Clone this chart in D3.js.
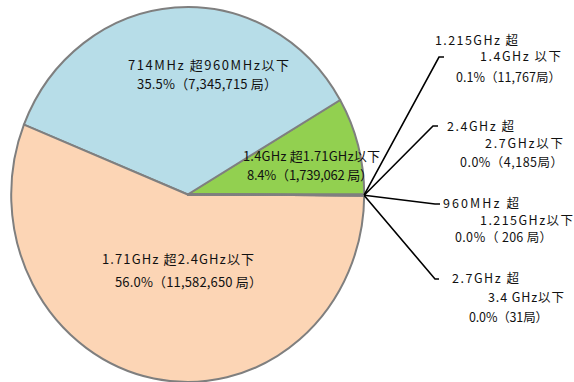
<!DOCTYPE html>
<html><head><meta charset="utf-8">
<script src="https://cdn.jsdelivr.net/npm/d3@7"></script>
<style>
html,body{margin:0;padding:0;background:#fff;}
svg{display:block;}
text{font-family:"Noto Sans CJK JP","Noto Sans",sans-serif;fill:#111;}
</style></head>
<body>
<svg id="chart" width="574" height="382"></svg>
<script>
// ---- data ----
const categories = ["714MHz超960MHz以下","960MHz超1.215GHz以下","1.215GHz超1.4GHz以下","1.4GHz超1.71GHz以下","1.71GHz超2.4GHz以下","2.4GHz超2.7GHz以下","2.7GHz超3.4GHz以下"];
const stations = [7345715, 206, 11767, 1739062, 11582650, 4185, 31];
const percents = ["35.5%","0.0％","0.1%","8.4%","56.0%","0.0%","0.0%"];
const labelLines = [
  ["714MHz 超960MHz以下", "35.5%（7,345,715 局）"],
  ["960MHz  超", "1.215GHz以下", "0.0％（ 206 局）"],
  ["1.215GHz 超", "1.4GHz 以下", "0.1%（11,767局）"],
  ["1.4GHz 超1.71GHz以下", "8.4%（1,739,062 局）"],
  ["1.71GHz  超2.4GHz以下", "56.0%（11,582,650 局）"],
  ["2.4GHz 超", "2.7GHz以下", "0.0%（4,185局）"],
  ["2.7GHz  超", "3.4 GHz以下", "0.0%（31局）"]
];
// drawing order counter-clockwise from 3 o'clock
const pieOrder = [3, 0, 4, 6, 5, 1, 2];

// ---- layout (positions/styles) ----
const colors = {0:"#B7DDE8",3:"#92D050",4:"#FCD5B5",1:"#B7DDE8",2:"#B7DDE8",5:"#FCD5B5",6:"#FCD5B5"};
const geo = {cx:187.7, cy:194.5, rx:176.5, ry:187.5};
// label line positions: [x-start, y-center, width] per line
const labelPos = {
  0: {size:13, lines:[[128,65.5,161],[137,84,140]]},
  3: {size:13, lines:[[243,156.5,137],[247,175.5,126]]},
  4: {size:13, lines:[[102,259.5,152],[115,282,147]]},
  2: {size:12.5, lines:[[435,40,83],[480,56,81],[456,77,105]], leader:[439,57,444]},
  5: {size:12.5, lines:[[447,126,67],[485,143,78],[460,162,103]], leader:[433,126,438]},
  1: {size:12.5, lines:[[443,203,76],[480,220.5,93],[455,237.5,97]], leader:[435,204,440]},
  6: {size:12.5, lines:[[452,278,67],[488,297,76],[469,317,79]], leader:[435,279,439]}
};

const svg = d3.select("#chart");
const sy = geo.ry / geo.rx;
const g = svg.append("g").attr("transform", `translate(${geo.cx},${geo.cy}) scale(1,${sy})`);

const pie = d3.pie().sort(null).value(i => stations[i])
  .startAngle(Math.PI/2).endAngle(Math.PI/2 - 2*Math.PI);
const arcs = pie(pieOrder);
const arc = d3.arc().innerRadius(0).outerRadius(geo.rx);

g.selectAll("path.slice").data(arcs).enter().append("path")
  .attr("class","slice")
  .attr("d", arc)
  .attr("fill", d => colors[d.data])
  .attr("stroke", "#7f7f7f")
  .attr("stroke-width", 2)
  .attr("stroke-linejoin","round")
  .attr("vector-effect","non-scaling-stroke");

// leader lines for tiny slices
const edgeArc = d3.arc().innerRadius(geo.rx).outerRadius(geo.rx);
arcs.forEach(d => {
  const lp = labelPos[d.data];
  if (!lp || !lp.leader) return;
  const c = edgeArc.centroid(d);
  const x0 = geo.cx + c[0], y0 = geo.cy + c[1]*sy;
  const [lx, ly, lx2] = lp.leader;
  svg.append("path")
    .attr("d", d3.line()([[x0,y0],[lx,ly],[lx2,ly]]))
    .attr("fill","none").attr("stroke","#000").attr("stroke-width",1.6);
});

// labels
Object.keys(labelPos).forEach(k => {
  const lp = labelPos[k];
  const lines = labelLines[k];
  lines.forEach((t, j) => {
    const [x, y, w] = lp.lines[j];
    svg.append("text")
      .attr("x", x)
      .attr("y", y + lp.size*0.37)
      .attr("text-anchor", "start")
      .attr("font-size", lp.size)
      .attr("textLength", w)
      .attr("lengthAdjust", "spacing")
      .text(t);
  });
});
</script>
</body></html>
